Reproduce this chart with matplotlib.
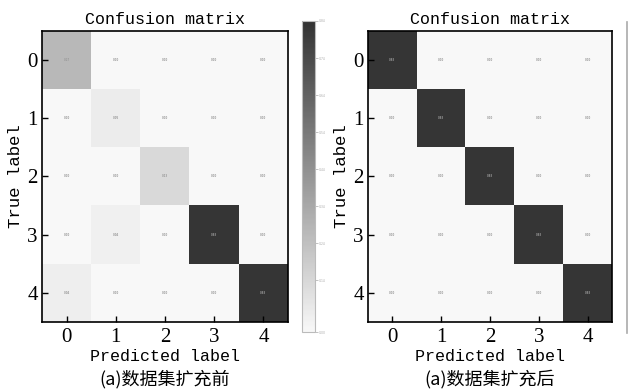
import numpy as np
import matplotlib
matplotlib.use('Agg')
import matplotlib.pyplot as plt
from matplotlib.colors import LinearSegmentedColormap, Normalize
from matplotlib.lines import Line2D

# classes
labels = ['0', '1', '2', '3', '4']

# matrice avant extension (valeurs lues approx. sur l'image)
cm_before = [[0.27, 0.0, 0.0, 0.0, 0.0],
             [0.0, 0.05, 0.0, 0.0, 0.0],
             [0.0, 0.0, 0.13, 0.0, 0.0],
             [0.0, 0.035, 0.0, 0.83, 0.0],
             [0.04, 0.0, 0.0, 0.0, 0.83]]

# matrice apres extension
cm_after = [[0.83, 0.0, 0.0, 0.0, 0.0],
            [0.0, 0.83, 0.0, 0.0, 0.0],
            [0.0, 0.0, 0.83, 0.0, 0.0],
            [0.0, 0.0, 0.0, 0.83, 0.0],
            [0.0, 0.0, 0.0, 0.0, 0.83]]

cbar_ticks = [0.0, 0.14, 0.24, 0.34, 0.44, 0.54, 0.64, 0.74, 0.84]
captions = ['(a)数据集扩充前', '(a)数据集扩充后']

cmap = LinearSegmentedColormap.from_list('g', ['#f8f8f8', '#333333'])
norm = Normalize(vmin=0.0, vmax=0.84)

mono = 'Liberation Mono'
serif = 'Liberation Serif'

fig = plt.figure(figsize=(6.28, 3.92), dpi=100)
W, H = 628, 392

def box(x0, y0, x1, y1):
    # pixels (haut-gauche) -> coords figure
    return [x0 / W, 1 - y1 / H, (x1 - x0) / W, (y1 - y0) / H]

ax_l = fig.add_axes(box(42, 31, 288, 322))
ax_r = fig.add_axes(box(368, 31, 612, 322))

for ax, cm, cap in [(ax_l, cm_before, captions[0]), (ax_r, cm_after, captions[1])]:
    m = np.array(cm)
    im = ax.imshow(m, cmap=cmap, norm=norm, aspect='auto', interpolation='nearest')
    for i in range(m.shape[0]):
        for j in range(m.shape[1]):
            ax.text(j, i, '%.2f' % m[i, j], ha='center', va='center',
                    fontsize=1.8, color='#999999', fontweight='bold')
    ax.set_xticks(range(len(labels)))
    ax.set_yticks(range(len(labels)))
    ax.set_xticklabels(labels, fontfamily=serif, fontsize=15)
    ax.set_yticklabels(labels, fontfamily=serif, fontsize=15)
    ax.tick_params(direction='in', length=4, width=1, pad=4)
    ax.tick_params(axis='y', pad=3)
    for s in ax.spines.values():
        s.set_linewidth(1.2)
    ax.set_title('Confusion matrix', fontfamily=mono, fontsize=12, pad=5)
    ax.set_ylabel('True label', fontfamily=mono, fontsize=12.5, labelpad=3)
    ax.set_xlabel('Predicted label', fontfamily=mono, fontsize=12, labelpad=2)
    ax.text(0.5, -0.195, cap, transform=ax.transAxes, ha='center', va='center',
            fontsize=13, family=['Noto Sans CJK SC', 'DejaVu Sans'])

cax = fig.add_axes(box(302, 21, 315, 332))
cb = fig.colorbar(im, cax=cax, ticks=cbar_ticks)
cb.ax.tick_params(labelsize=2.2, length=2, width=0.5, pad=1, colors='#aaaaaa')
cb.outline.set_edgecolor('#bbbbbb')
cb.outline.set_linewidth(0.8)

# bord de la 2e colorbar coupee a droite
fig.add_artist(Line2D([626.5 / W, 626.5 / W], [1 - 333 / H, 1 - 22 / H],
                      color='#aaaaaa', lw=1.2))

plt.savefig('out.png', dpi=100)
